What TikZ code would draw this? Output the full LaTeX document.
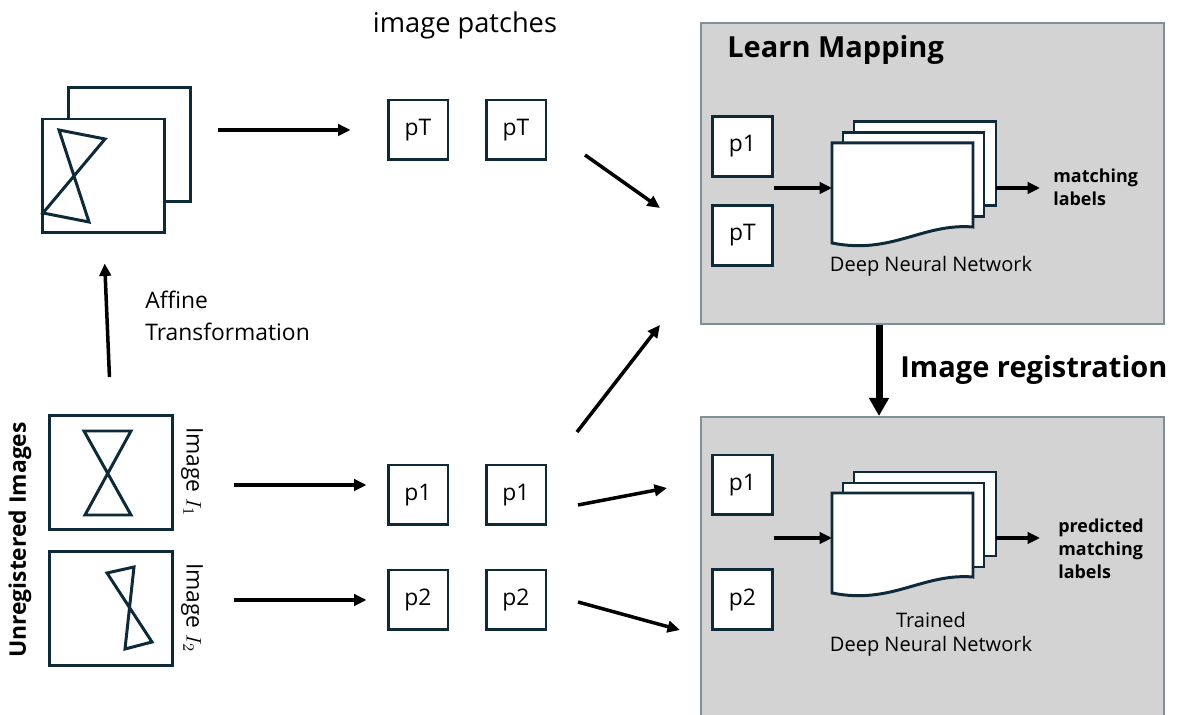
\documentclass[tikz,border=0pt]{standalone}
\usepackage{fontspec}
\setmainfont{Open Sans}
\usetikzlibrary{arrows.meta, positioning, calc}
\definecolor{ink}{HTML}{0E2A38}
\definecolor{panel}{HTML}{D3D3D3}
\definecolor{panelline}{HTML}{7F9099}

\tikzset{
  frame/.style={draw=ink, line width=1.7pt, fill=white, minimum width=2.46cm, minimum height=2.28cm, inner sep=0pt},
  patch/.style={draw=ink, line width=1.7pt, fill=white, minimum size=1.2cm, inner sep=0pt, font=\fontsize{13}{15}\selectfont},
  panelbox/.style={draw=panelline, line width=1.2pt, fill=panel, minimum width=9.26cm, inner sep=0pt, anchor=north west},
  sheet/.style={draw=ink, line width=1.7pt, fill=white},
  glass/.style={draw=ink, line width=1.7pt, line join=miter},
  arr/.style={-{Triangle[length=2.5mm,width=2.3mm]}, line width=2pt},
  bigarr/.style={-{Triangle[length=3.6mm,width=3.8mm]}, line width=4pt},
  lbl/.style={font=\fontsize{13}{16}\selectfont, inner sep=0pt},
  boldlbl/.style={font=\bfseries\fontsize{10.2}{13}\selectfont, align=left, inner sep=0pt},
  dnn/.pic={
    \draw[sheet] (22,-21) rectangle (164,63);
    \draw[sheet] (11,-10) rectangle (152,74);
    \draw[sheet] (0,0) -- (141,0) -- (141,84) .. controls (90,80) and (60,112) .. (0,100) -- cycle;
    \coordinate (-in) at (0,45);
    \coordinate (-out) at (164,45);
  }
}

\begin{document}
\begin{tikzpicture}[x=0.02cm, y=-0.02cm]
  \useasboundingbox (0,0) rectangle (1178,715);

  % transformed image stack
  \node[frame] (stackB) at (129.5,144.5) {};
  \node[frame] (stackF) at (103.5,176) {};
  \draw[glass] (59,130) -- (105,139) -- (43,213) -- (89,222) -- cycle;

  % unregistered images
  \node[frame] (img1) at (111,472.5) {};
  \node[frame] (img2) at (111,608.5) {};
  \draw[glass] (84,431) -- (131,431) -- (85,515) -- (131,515) -- cycle;
  \draw[glass] (107,573) -- (134,567) -- (125,649) -- (152,642) -- cycle;

  \node[font=\bfseries\fontsize{13}{15}\selectfont, rotate=90, inner sep=0pt] (unreg) at (20,540) {Unregistered Images};
  \node[lbl, rotate=-90] (name1) at (192,472) {Image $I_1$};
  \node[lbl, rotate=-90] (name2) at (192,608) {Image $I_2$};

  \draw[arr, shorten <=0.74cm, shorten >=0.58cm] (img1.north) -- (stackF.south);
  \node[lbl, align=left, anchor=west] (affine) at (145,316) {Affine\\[2pt]Transformation};

  % patches
  \node[font=\fontsize{15.5}{18}\selectfont, inner sep=0pt] (ptitle) at (465,25) {image patches};
  \node[patch] (pT1) at (418,130) {pT};
  \node[patch] (pT2) at (516,130) {pT};
  \node[patch] (p1a) at (418,495) {p1};
  \node[patch] (p1b) at (516,495) {p1};
  \node[patch] (p2a) at (418,600) {p2};
  \node[patch] (p2b) at (516,600) {p2};

  \draw[arr, shorten <=0.52cm, shorten >=0.72cm] (stackB.east |- pT1.west) -- (pT1.west);
  \draw[arr, shorten <=1.2cm, shorten >=0.4cm] ([yshift=0.2cm]p1a.west -| img1.east) -- ([yshift=0.2cm]p1a.west);
  \draw[arr, shorten <=1.2cm, shorten >=0.4cm] (img2.east |- p2a.west) -- (p2a.west);

  % learn mapping panel
  \node[panelbox, minimum height=6.02cm] (learn) at (700,22) {};
  \node[font=\bfseries\fontsize{16.5}{19}\selectfont, anchor=west, inner sep=0pt] (learnT) at (727,50) {Learn Mapping};
  \node[patch] (lp1) at (742.5,146.5) {p1};
  \node[patch] (lpT) at (742.5,235.5) {pT};
  \pic (net1) at (832,143) {dnn};
  \draw[arr] (lp1.east |- net1-in) -- (net1-in);
  \node[boldlbl, anchor=west] (out1) at (1053,187) {matching\\labels};
  \draw[arr] (net1-out) -- ([xshift=-0.26cm]out1.west |- net1-out);
  \node[font=\fontsize{11.4}{14}\selectfont, inner sep=0pt] (net1T) at (931,266) {Deep Neural Network};

  % registration panel
  \node[panelbox, minimum height=6.12cm] (reg) at (700,416) {};
  \node[patch] (rp1) at (742.5,485) {p1};
  \node[patch] (rp2) at (742.5,599.5) {p2};
  \pic (net2) at (832,493) {dnn};
  \draw[arr] (rp1.east |- net2-in) -- (net2-in);
  \node[boldlbl, anchor=west] (out2) at (1058,549) {predicted\\matching\\labels};
  \draw[arr] (net2-out) -- ([xshift=-0.36cm]out2.west |- net2-out);
  \node[font=\fontsize{11.4}{13.5}\selectfont, align=center, inner sep=0pt] (net2T) at (931,634) {Trained\\Deep Neural Network};

  \draw[bigarr] ([xshift=-1.07cm]learn.south) -- ([xshift=-1.07cm]reg.north);
  \node[font=\bfseries\fontsize{16.5}{19}\selectfont, anchor=west, inner sep=0pt] (regT) at (900,370) {Image registration};

  % patches into the panels
  \coordinate (d1s) at (585,155);
  \coordinate (d1e) at (660,208);
  \coordinate (d2s) at (577,432);
  \coordinate (d2e) at (660,325);
  \coordinate (d3s) at (578,505);
  \coordinate (d3e) at (667,488);
  \coordinate (d4s) at (578,602);
  \coordinate (d4e) at (680,630);
  \draw[arr] (d1s) -- (d1e);
  \draw[arr] (d2s) -- (d2e);
  \draw[arr] (d3s) -- (d3e);
  \draw[arr] (d4s) -- (d4e);
\end{tikzpicture}
\end{document}
